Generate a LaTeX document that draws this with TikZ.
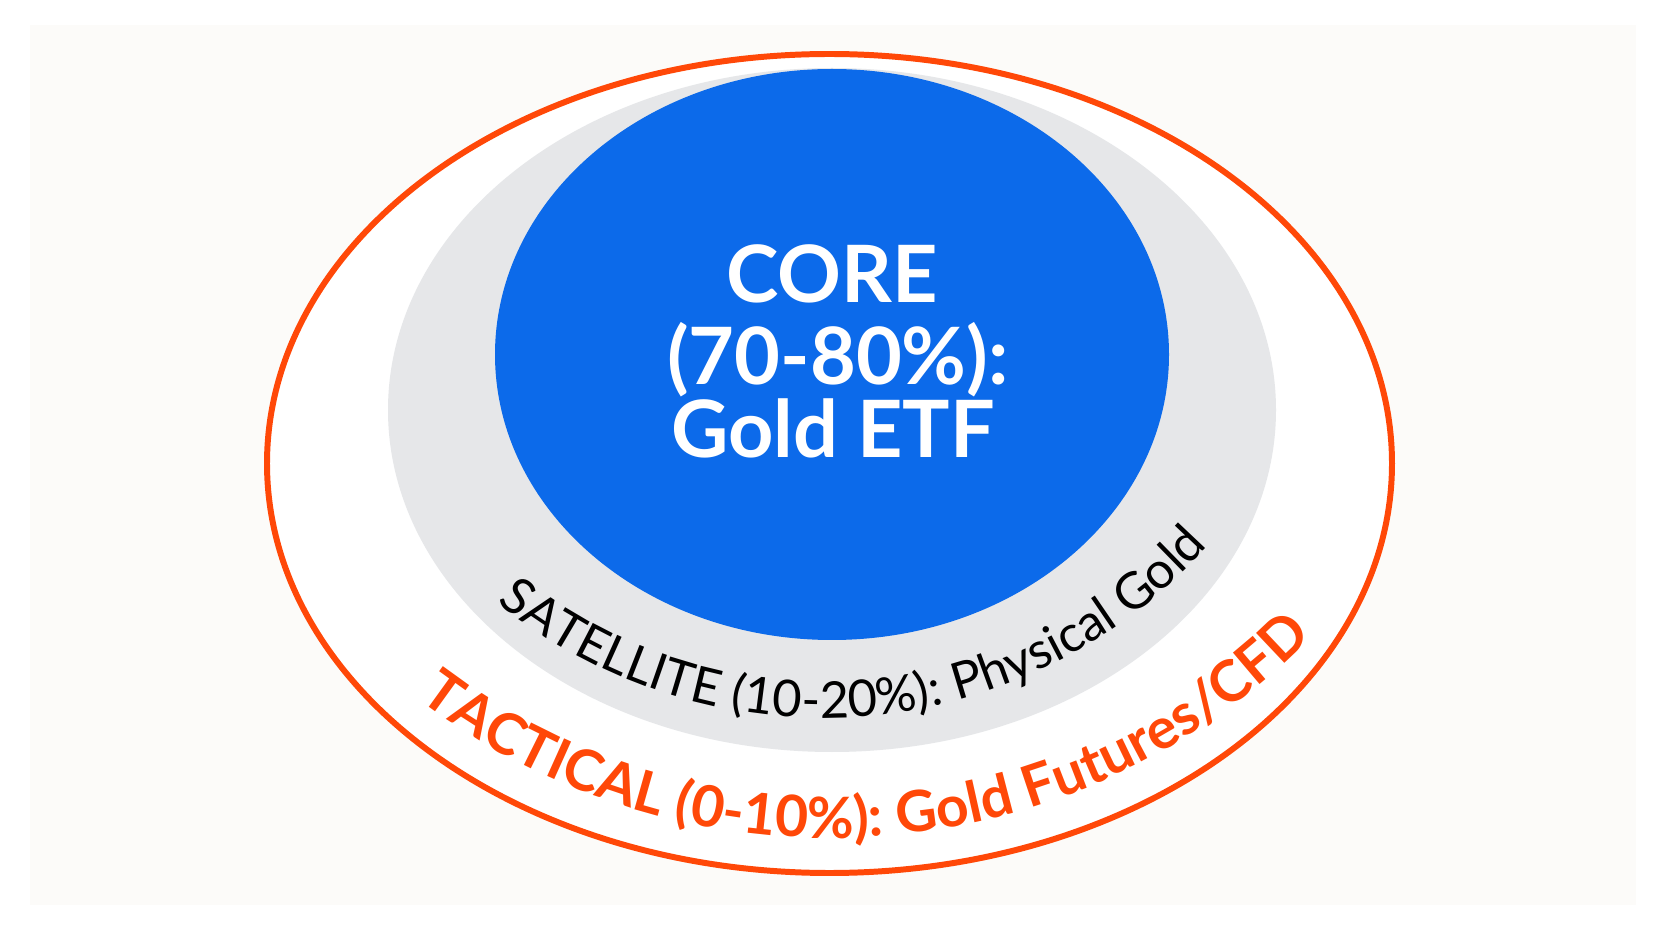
\documentclass[tikz,border=0pt]{standalone}
\usepackage{fontspec}
\usepackage{tikz}
\usetikzlibrary{decorations.text}

\newfontfamily\ringfont{Lato}[UprightFont={* Regular},BoldFont={* Bold}]

\definecolor{paper}{RGB}{252,251,249}
\definecolor{coreblue}{RGB}{12,106,234}
\definecolor{satgray}{RGB}{230,231,233}
\definecolor{tacred}{RGB}{255,72,8}

\begin{document}
\begin{tikzpicture}[x=0.01cm,y=0.01cm,
  core/.style={anchor=base,inner sep=0pt,text=white,
    font=\ringfont\bfseries\fontsize{22.5}{24}\selectfont},
  ringtext/.style={decorate,decoration={text along path,text align=center,#1}}]

  % canvas
  \fill[white] (0,0) rectangle (1666,-937);
  \fill[paper] (30,-25) rectangle (1636,-905);
  \useasboundingbox (0,0) rectangle (1666,-937);

  % tactical ring
  \draw[tacred,line width=1.7pt,fill=white]
    (829.5,-463.5) ellipse [x radius=562.5,y radius=409.5];

  % satellite ring
  \fill[satgray] (832,-410) ellipse [x radius=444,y radius=342];

  % core
  \fill[coreblue] (832,-354.5) ellipse [x radius=337,y radius=285.5];
  \node[core] (core1) at (832,-303) {CORE};
  \node[core] (core2) at (838,-385) {(70-80\%):};
  \node[core] (core3) at (833,-458) {Gold ETF};

  % curved labels
  \path[ringtext={text color=black,
      text={|\ringfont\fontsize{14.4}{17}\selectfont|SATELLITE (10-20{\%}): Physical Gold}}]
    (823,-201) ++(-150:517) arc[start angle=-150,end angle=-21,radius=517];
  \path[ringtext={text color=tacred,
      text={|\ringfont\bfseries\fontsize{16.2}{19}\selectfont|TACTICAL (0-10{\%}): Gold Futures/CFD}}]
    (830,-158) ++(-141:680) arc[start angle=-141,end angle=-31,radius=680];

\end{tikzpicture}
\end{document}
